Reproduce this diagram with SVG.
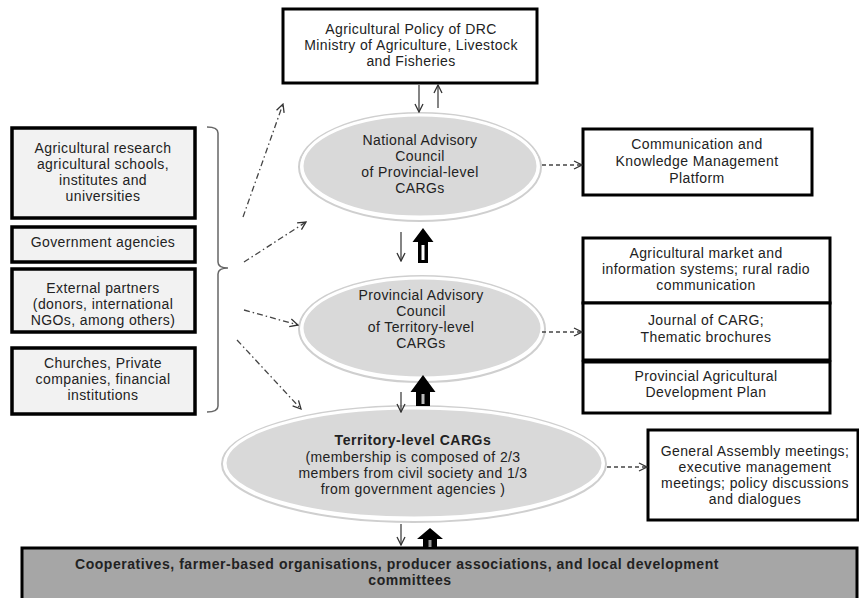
<svg xmlns="http://www.w3.org/2000/svg" width="859" height="598" viewBox="0 0 859 598">
<style>
text{font-family:"Liberation Sans",Arial,sans-serif;font-size:14px;letter-spacing:0.4px;fill:#222;text-anchor:middle}
.b{font-weight:bold;letter-spacing:0.55px}
.box{fill:#fff;stroke:#000;stroke-width:3}
.lbox{fill:#f2f2f2;stroke:#000;stroke-width:3.5}
.ell{fill:#d9d9d9;stroke:#fff;stroke-width:3}
.shadow{fill:none;stroke:#cfcfcf;stroke-width:2}
.thin{stroke:#333;stroke-width:1.2;fill:none;marker-end:url(#v)}
.dd{stroke:#444;stroke-width:1.3;fill:none;stroke-dasharray:6 3 1.5 3;marker-end:url(#v)}
.dsh{stroke:#444;stroke-width:1.3;fill:none;stroke-dasharray:4 3;marker-end:url(#v)}
</style>
<defs>
<marker id="v" viewBox="0 0 10 10" refX="9" refY="5" markerWidth="10" markerHeight="10" markerUnits="userSpaceOnUse" orient="auto">
<path d="M1,1 L9,5 L1,9" fill="none" stroke="#333" stroke-width="1.3"/>
</marker>
</defs>

<g id="top">
<rect class="box" x="283" y="9" width="254" height="74"/>
<text x="411" y="34">Agricultural Policy of DRC</text>
<text x="411" y="50">Ministry of Agriculture, Livestock</text>
<text x="411" y="66">and Fisheries</text>
</g>

<g id="national">
<ellipse class="shadow" cx="420" cy="167" rx="121" ry="54"/>
<ellipse class="ell" cx="420" cy="166" rx="118" ry="51"/>
<text x="420" y="145">National Advisory</text>
<text x="420" y="161">Council</text>
<text x="420" y="177">of Provincial-level</text>
<text x="420" y="193">CARGs</text>
</g>

<g id="provincial">
<ellipse class="shadow" cx="422" cy="329" rx="123" ry="53"/>
<ellipse class="ell" cx="422" cy="328" rx="120" ry="50"/>
<text x="421" y="300">Provincial Advisory</text>
<text x="421" y="316">Council</text>
<text x="421" y="332">of Territory-level</text>
<text x="421" y="348">CARGs</text>
</g>

<g id="territory">
<ellipse class="shadow" cx="414" cy="464" rx="192" ry="58"/>
<ellipse class="ell" cx="414" cy="463" rx="189" ry="55"/>
<text class="b" x="413" y="445">Territory-level CARGs</text>
<text x="413" y="462">(membership is composed of 2/3</text>
<text x="413" y="478">members from civil society and 1/3</text>
<text x="413" y="494">from government agencies )</text>
</g>

<g id="bottom">
<rect x="22" y="548" width="835" height="55" fill="#a6a6a6" stroke="#000" stroke-width="3"/>
<text class="b" x="397" y="569">Cooperatives, farmer-based organisations, producer associations, and local development</text>
<text class="b" x="410" y="585">committees</text>
</g>

<g id="research">
<rect class="lbox" x="12" y="128" width="183" height="90"/>
<text x="103" y="153">Agricultural research</text>
<text x="103" y="169">agricultural schools,</text>
<text x="103" y="185">institutes and</text>
<text x="103" y="201">universities</text>
</g>
<g id="government">
<rect class="lbox" x="12" y="227" width="183" height="35"/>
<text x="103" y="247">Government agencies</text>
</g>
<g id="external">
<rect class="lbox" x="12" y="269" width="183" height="63"/>
<text x="103" y="293">External partners</text>
<text x="103" y="309">(donors, international</text>
<text x="103" y="325">NGOs, among others)</text>
</g>
<g id="churches">
<rect class="lbox" x="12" y="348" width="183" height="66"/>
<text x="103" y="368">Churches, Private</text>
<text x="103" y="384">companies, financial</text>
<text x="103" y="400">institutions</text>
</g>

<g id="communication">
<rect class="box" x="583" y="129" width="229" height="66"/>
<text x="697" y="149">Communication and</text>
<text x="697" y="166">Knowledge Management</text>
<text x="697" y="183">Platform</text>
</g>
<g id="market">
<rect class="box" x="583" y="238" width="247" height="65"/>
<text x="706" y="258">Agricultural market and</text>
<text x="706" y="274">information systems; rural radio</text>
<text x="706" y="290">communication</text>
</g>
<g id="journal">
<rect class="box" x="583" y="303" width="247" height="57"/>
<text x="706" y="325">Journal of CARG;</text>
<text x="706" y="342">Thematic brochures</text>
</g>
<g id="plan">
<rect class="box" x="583" y="362" width="247" height="51"/>
<text x="706" y="381">Provincial Agricultural</text>
<text x="706" y="397">Development Plan</text>
</g>
<g id="assembly">
<rect class="box" x="648" y="430" width="210" height="90"/>
<text x="755" y="456">General Assembly meetings;</text>
<text x="755" y="472">executive management</text>
<text x="755" y="488">meetings; policy discussions</text>
<text x="755" y="504">and dialogues</text>
</g>

<g id="connectors">
<path d="M207,127 Q218,127 218,133 V262 Q218,268 228,268 M228,268 Q218,268 218,274 V406 Q218,412 207,412" fill="none" stroke="#666" stroke-width="1.5"/>
<line class="dd" x1="243" y1="217" x2="283" y2="104"/>
<line class="dd" x1="244" y1="262" x2="306" y2="222"/>
<line class="dd" x1="244" y1="310" x2="298" y2="325"/>
<line class="dd" x1="237" y1="340" x2="301" y2="409"/>
<line class="dsh" x1="542" y1="165" x2="582" y2="165"/>
<line class="dsh" x1="542" y1="332" x2="582" y2="332"/>
<line class="dsh" x1="607" y1="467" x2="647" y2="467"/>
<line class="thin" x1="419" y1="85" x2="419" y2="112"/>
<line class="thin" x1="438" y1="108" x2="438" y2="85"/>
<line class="thin" x1="401" y1="232" x2="401" y2="261"/>
<line class="thin" x1="401" y1="392" x2="401" y2="412"/>
<line class="thin" x1="401" y1="524" x2="401" y2="545"/>
<path d="M423,228 L433.5,242 L428,242 L428,263 L418,263 L418,242 L412.5,242 Z" fill="#000"/>
<rect x="421.5" y="245" width="3" height="15" fill="#fff"/>
<path d="M423,375 L435.5,392 L430,392 L430,406 L416,406 L416,392 L410.5,392 Z" fill="#000"/>
<rect x="421.5" y="394" width="3" height="10" fill="#bbb"/>
<path d="M430,528 L443,539 L437,539 L437,548 L423,548 L423,539 L417,539 Z" fill="#000"/>
<rect x="428.5" y="540" width="3" height="7" fill="#999"/>
</g>
</svg>
